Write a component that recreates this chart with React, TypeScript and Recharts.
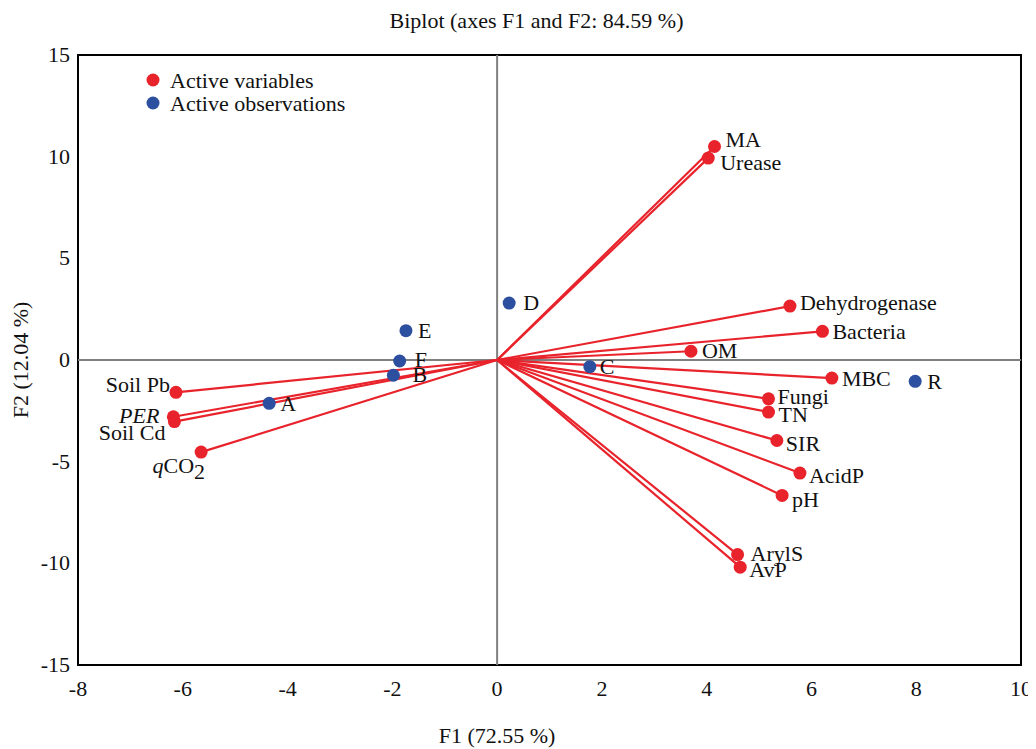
import React from 'react';
import { ScatterChart, Scatter, XAxis, YAxis, ReferenceLine, ReferenceArea } from 'recharts';

// PCA biplot, axes F1/F2
const variableNames = ['MA', 'Urease', 'Dehydrogenase', 'Bacteria', 'OM', 'MBC', 'Fungi', 'TN', 'SIR', 'AcidP', 'pH', 'ArylS', 'AvP', 'Soil Pb', 'PER', 'Soil Cd', 'qCO2'];
const variableF1 = [4.15, 4.03, 5.59, 6.21, 3.7, 6.39, 5.18, 5.18, 5.34, 5.78, 5.44, 4.59, 4.64, -6.13, -6.18, -6.16, -5.65];
const variableF2 = [10.5, 9.93, 2.65, 1.41, 0.43, -0.89, -1.91, -2.56, -3.96, -5.56, -6.66, -9.57, -10.19, -1.59, -2.79, -3.03, -4.53];

const observationNames = ['A', 'B', 'C', 'D', 'E', 'F', 'R'];
const observationF1 = [-4.35, -1.98, 1.77, 0.23, -1.74, -1.86, 7.98];
const observationF2 = [-2.13, -0.75, -0.33, 2.8, 1.44, -0.05, -1.05];

const xTicks = [-8, -6, -4, -2, 0, 2, 4, 6, 8, 10];
const yTicks = [-15, -10, -5, 0, 5, 10, 15];

const RED = '#e8232b';
const BLUE = '#2d4f9f';
const FONT = '"Liberation Serif", "Times New Roman", serif';
const FS = 22;

// label offsets from the dot: [dx, dy, anchor]
const placement: Record<string, [number, number, string]> = {
  MA: [11, -7, 'start'],
  Urease: [12, 4, 'start'],
  Dehydrogenase: [10, -4, 'start'],
  Bacteria: [10, 0, 'start'],
  OM: [11, -1, 'start'],
  MBC: [10, 0, 'start'],
  Fungi: [9, -2, 'start'],
  TN: [10, 2, 'start'],
  SIR: [9, 3, 'start'],
  AcidP: [9, 2, 'start'],
  pH: [10, 4, 'start'],
  ArylS: [13, -1, 'start'],
  AvP: [9, 2, 'start'],
  'Soil Pb': [-6, -8, 'end'],
  PER: [-14, -2, 'end'],
  'Soil Cd': [-9, 11, 'end'],
  qCO2: [4, 13, 'end'],
  A: [11, 0, 'start'],
  B: [19, -1, 'start'],
  C: [10, 0, 'start'],
  D: [14, -1, 'start'],
  E: [12, 0, 'start'],
  F: [15, -2, 'start'],
  R: [12, 0, 'start'],
};

const variables = variableNames.map((name, i) => ({ name, x: variableF1[i], y: variableF2[i] }));
const observations = observationNames.map((name, i) => ({ name, x: observationF1[i], y: observationF2[i] }));

function labelText(name: string) {
  if (name === 'PER') return <tspan fontStyle="italic">PER</tspan>;
  if (name === 'qCO2')
    return (
      <>
        <tspan fontStyle="italic">q</tspan>
        <tspan>CO</tspan>
        <tspan dy={6}>2</tspan>
      </>
    );
  return name;
}

const makeShape = (fill: string) => (props: any) => {
  const { cx, cy, payload } = props;
  const [dx, dy, anchor] = placement[payload.name] || [10, 0, 'start'];
  return (
    <g>
      <circle cx={cx} cy={cy} r={6.5} fill={fill} />
      <text x={cx + dx} y={cy + dy} textAnchor={anchor as any} dominantBaseline="central" fontFamily={FONT} fontSize={FS} fill="#111">
        {labelText(payload.name)}
      </text>
    </g>
  );
};

const XTick = (p: any) => (
  <text x={p.x} y={p.y} dy={23} textAnchor="middle" fontFamily={FONT} fontSize={FS} fill="#111">
    {p.payload.value}
  </text>
);

const YTick = (p: any) => (
  <text x={p.x} y={p.y} dy={7} textAnchor="end" fontFamily={FONT} fontSize={FS} fill="#111">
    {p.payload.value}
  </text>
);

export default function App() {
  return (
    <div style={{ width: 1028, height: 741 }}>
      <ScatterChart width={1028} height={741} margin={{ top: 47, right: 15, left: 20, bottom: 44 }}>
        <XAxis
          type="number"
          dataKey="x"
          domain={[-8, 10]}
          ticks={xTicks}
          interval={0}
          tickLine={false}
          axisLine={false}
          height={40}
          tick={<XTick />}
          allowDataOverflow
        />
        <YAxis
          type="number"
          dataKey="y"
          domain={[-15, 15]}
          ticks={yTicks}
          interval={0}
          tickLine={false}
          axisLine={false}
          width={50}
          tick={<YTick />}
          allowDataOverflow
        />
        <ReferenceLine x={0} stroke="#808080" strokeWidth={2} />
        <ReferenceLine y={0} stroke="#808080" strokeWidth={2} />
        {variables.map((v) => (
          <ReferenceLine
            key={v.name}
            segment={[{ x: 0, y: 0 }, { x: v.x, y: v.y }]}
            stroke={RED}
            strokeWidth={2.2}
          />
        ))}
        <ReferenceArea x1={-8} x2={10} y1={-15} y2={15} fill="none" fillOpacity={0} stroke="#000" strokeWidth={2} />
        <Scatter data={variables} fill={RED} shape={makeShape(RED)} isAnimationActive={false} />
        <Scatter data={observations} fill={BLUE} shape={makeShape(BLUE)} isAnimationActive={false} />
        <text x={528.5} y={20} textAnchor="middle" fontFamily={FONT} fontSize={FS} fill="#111">
          Biplot (axes F1 and F2: 84.59 %)
        </text>
        <text x={489} y={735} textAnchor="middle" fontFamily={FONT} fontSize={FS} fill="#111">
          F1 (72.55 %)
        </text>
        <text
          x={12}
          y={352}
          transform="rotate(-90 12 352)"
          textAnchor="middle"
          dominantBaseline="central"
          fontFamily={FONT}
          fontSize={FS}
          fill="#111"
        >
          F2 (12.04 %)
        </text>
        <circle cx={145} cy={72} r={6.5} fill={RED} />
        <text x={162} y={72} dominantBaseline="central" fontFamily={FONT} fontSize={FS} fill="#111">
          Active variables
        </text>
        <circle cx={145} cy={95} r={6.5} fill={BLUE} />
        <text x={162} y={95} dominantBaseline="central" fontFamily={FONT} fontSize={FS} fill="#111">
          Active observations
        </text>
      </ScatterChart>
    </div>
  );
}
